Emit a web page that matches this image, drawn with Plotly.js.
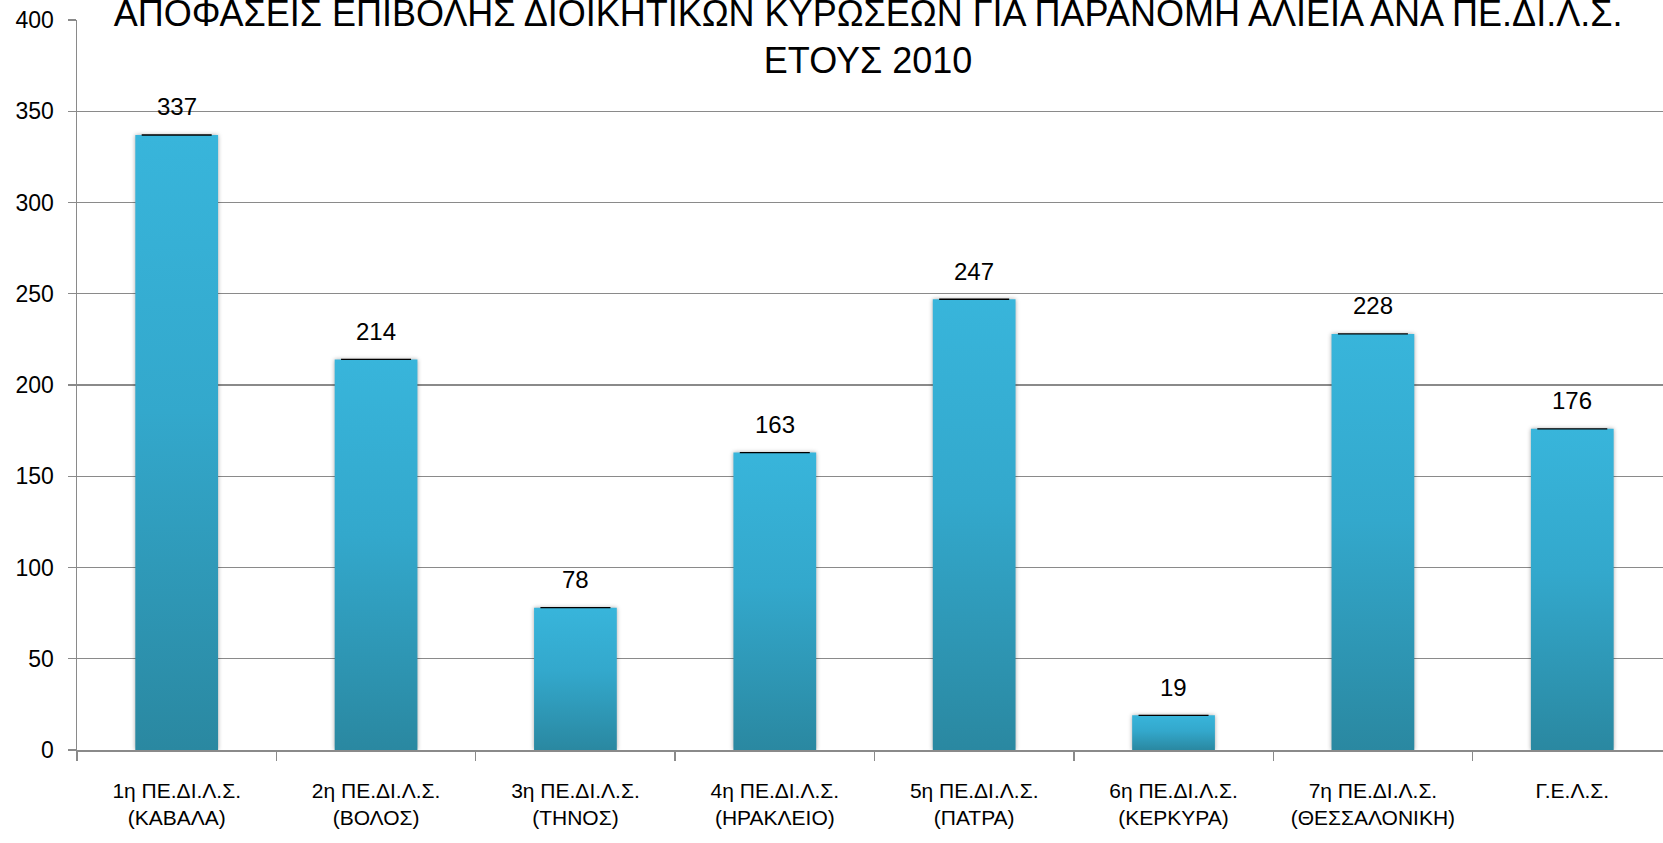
<!DOCTYPE html>
<html>
<head>
<meta charset="utf-8">
<script src="https://cdn.plot.ly/plotly-3.0.1.min.js"></script>
<style>
html,body{margin:0;padding:0;background:#fff;overflow:hidden;}
#chart{width:1663px;height:843px;}
</style>
</head>
<body>
<div id="chart"></div>
<script>
// ---- data ----
const categories = [
  "1η ΠΕ.ΔΙ.Λ.Σ.<br>(ΚΑΒΑΛΑ)",
  "2η ΠΕ.ΔΙ.Λ.Σ.<br>(ΒΟΛΟΣ)",
  "3η ΠΕ.ΔΙ.Λ.Σ.<br>(ΤΗΝΟΣ)",
  "4η ΠΕ.ΔΙ.Λ.Σ.<br>(ΗΡΑΚΛΕΙΟ)",
  "5η ΠΕ.ΔΙ.Λ.Σ.<br>(ΠΑΤΡΑ)",
  "6η ΠΕ.ΔΙ.Λ.Σ.<br>(ΚΕΡΚΥΡΑ)",
  "7η ΠΕ.ΔΙ.Λ.Σ.<br>(ΘΕΣΣΑΛΟΝΙΚΗ)",
  "Γ.Ε.Λ.Σ."
];
const decisions = [337, 214, 78, 163, 247, 19, 228, 176];
const yTickValues = [0, 50, 100, 150, 200, 250, 300, 350, 400];
const chartTitle = "ΑΠΟΦΑΣΕΙΣ ΕΠΙΒΟΛΗΣ ΔΙΟΙΚΗΤΙΚΩΝ ΚΥΡΩΣΕΩΝ ΓΙΑ ΠΑΡΑΝΟΜΗ ΑΛΙΕΙΑ ΑΝΑ ΠΕ.ΔΙ.Λ.Σ.<br>ΕΤΟΥΣ 2010";

const FONT = "'Liberation Sans', Arial, sans-serif";

const trace = {
  type: "bar",
  x: categories,
  y: decisions,
  width: 0.415,
  marker: {color: "#33a6c8", line: {width: 0}},
  error_y: {
    type: "data",
    array: decisions.map(() => 0),
    visible: true,
    color: "#000000",
    thickness: 1.3,
    width: 35
  },
  hoverinfo: "x+y"
};

const annotations = decisions.map((v, i) => ({
  x: categories[i],
  y: v,
  xref: "x",
  yref: "y",
  text: String(v),
  showarrow: false,
  yanchor: "middle",
  yshift: 28,
  font: {family: FONT, size: 24, color: "#000"}
}));

const layout = {
  width: 1663,
  height: 843,
  margin: {l: 77, r: 0, t: 20, b: 93},
  paper_bgcolor: "#ffffff",
  plot_bgcolor: "#ffffff",
  showlegend: false,
  font: {family: FONT, color: "#000"},
  title: {
    text: chartTitle,
    font: {family: FONT, size: 36, color: "#000"},
    x: 0.522,
    xanchor: "center",
    xref: "container",
    y: 0.969,
    yanchor: "middle",
    yref: "container"
  },
  xaxis: {
    type: "category",
    range: [-0.5, 7.455],
    showgrid: false,
    showline: true,
    linecolor: "#8a8a8a",
    linewidth: 1.5,
    ticks: "outside",
    tickson: "boundaries",
    ticklen: 9,
    tickcolor: "#8a8a8a",
    tickwidth: 1.3,
    tickangle: 0,
    tickfont: {family: FONT, size: 21, color: "#000"},
    ticklabelstandoff: 21,
    fixedrange: true
  },
  yaxis: {
    range: [0, 400],
    tickvals: yTickValues,
    showgrid: true,
    gridcolor: "#8a8a8a",
    gridwidth: 1.3,
    showline: true,
    linecolor: "#8a8a8a",
    linewidth: 1.5,
    ticks: "outside",
    ticklen: 8,
    tickcolor: "#8a8a8a",
    tickwidth: 1.3,
    tickfont: {family: FONT, size: 23, color: "#000"},
    ticklabelstandoff: 9,
    zeroline: false,
    fixedrange: true
  },
  annotations: annotations
};

Plotly.newPlot("chart", [trace], layout, {displayModeBar: false, staticPlot: true}).then(gd => {
  const svg = gd.querySelector("svg.main-svg");
  let defs = svg.querySelector("defs");
  if (!defs) { defs = document.createElementNS("http://www.w3.org/2000/svg", "defs"); svg.insertBefore(defs, svg.firstChild); }
  const ns = "http://www.w3.org/2000/svg";
  const grad = document.createElementNS(ns, "linearGradient");
  grad.setAttribute("id", "barGrad");
  grad.setAttribute("x1", "0"); grad.setAttribute("y1", "0");
  grad.setAttribute("x2", "0"); grad.setAttribute("y2", "1");
  [["0", "#38b5db"], ["0.45", "#33a8cc"], ["1", "#2a88a1"]].forEach(([o, c]) => {
    const s = document.createElementNS(ns, "stop");
    s.setAttribute("offset", o); s.setAttribute("stop-color", c);
    grad.appendChild(s);
  });
  defs.appendChild(grad);
  gd.querySelectorAll(".barlayer .point path").forEach(p => {
    p.style.fill = "url(#barGrad)";
    p.style.filter = "drop-shadow(0px 0px 2px rgba(0,0,0,0.35))";
  });
});
</script>
</body>
</html>
